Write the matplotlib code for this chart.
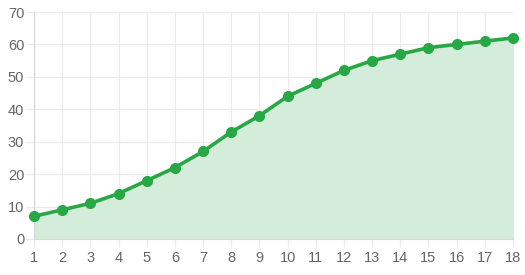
import matplotlib.pyplot as plt

# data
days = [1, 2, 3, 4, 5, 6, 7, 8, 9, 10, 11, 12, 13, 14, 15, 16, 17, 18]
values = [7, 9, 11, 14, 18, 22, 27, 33, 38, 44, 48, 52, 55, 57, 59, 60, 61, 62]
y_ticks = [0, 10, 20, 30, 40, 50, 60, 70]

line_color = "#28a745"
fill_color = "#d4edda"
grid_color = "#ebebeb"
text_color = "#666666"

plt.rcParams['font.family'] = ['Liberation Sans', 'DejaVu Sans']

fig = plt.figure(figsize=(5.25, 2.75), dpi=100)
ax = fig.add_axes([34 / 525, 1 - 239 / 275, (513 - 34) / 525, (239 - 12) / 275])

ax.fill_between(days, values, 0, color=fill_color, zorder=1)
ax.plot(days, values, color=line_color, linewidth=2.6, marker="o",
        markersize=7, zorder=3, clip_on=False)

ax.set_xlim(1, 18)
ax.set_ylim(0, 70)
ax.set_xticks(days)
ax.set_yticks(y_ticks)
ax.grid(True, color=grid_color, linewidth=0.8, zorder=0)
ax.set_axisbelow(True)

for side in ["top", "right"]:
    ax.spines[side].set_visible(False)
for side in ["left", "bottom"]:
    ax.spines[side].set_color("#d6d6d6")
    ax.spines[side].set_linewidth(0.8)

ax.tick_params(axis="both", colors=grid_color, length=6, width=0.8,
               labelcolor=text_color, labelsize=10.5)
ax.tick_params(axis="x", pad=3)
ax.tick_params(axis="y", pad=1)

fig.savefig("out.png", dpi=100)
